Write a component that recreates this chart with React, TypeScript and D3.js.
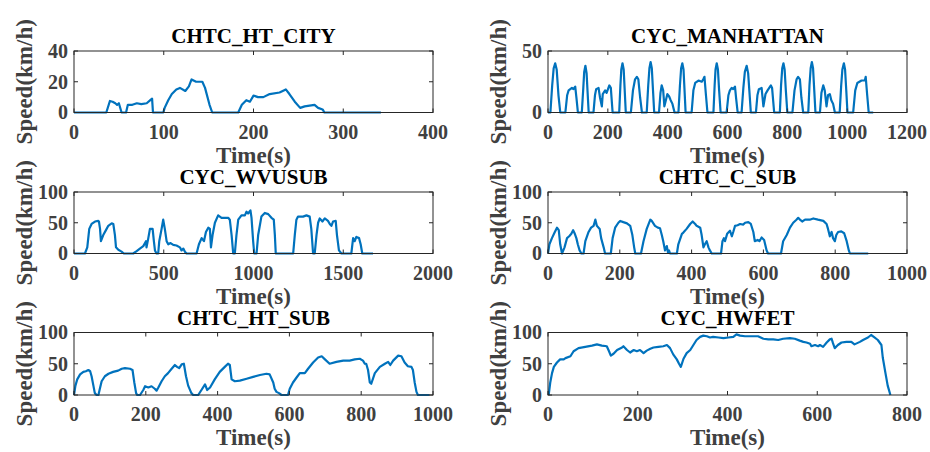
import React from "react";
import * as d3 from "d3";

// ---- Data (time s, speed km/h) ----
const chtcHtCity: [number, number][] = [
  [0, 0], [36, 0], [40, 7.5], [43, 7], [46, 6], [48, 5], [50, 6], [53, 0], [58, 0], [60, 5],
  [65, 5], [70, 6], [75, 5.5], [81, 6], [85, 8], [87, 9], [88, 0], [99.5, 0], [101, 3],
  [105, 8], [109, 12], [114, 15], [118, 16], [124, 14], [128, 17], [131, 21.5], [136, 20],
  [143, 20], [146, 16], [151, 5], [154, 0], [183, 0], [187, 5], [192, 8], [196, 7],
  [200, 11], [205, 10], [211, 10], [218, 12], [229, 13], [236, 15], [240, 12], [246, 7],
  [252, 3], [257, 4], [268, 5], [272, 3], [277, 2], [279, 0], [342, 0],
];

const cycManhattan: [number, number][] = [
  [0, 0], [8, 0], [14, 22], [19, 36], [24, 40], [29, 35], [35, 14], [41, 0],
  [58, 0], [64, 14], [69, 18], [80, 20], [85, 19], [91, 21], [95, 12], [100, 0],
  [113, 0], [118, 20], [121, 33], [125, 38], [129, 32], [132, 18], [136, 0],
  [152, 0], [157, 14], [161, 19], [169, 20], [174, 12], [180, 5], [183, 15],
  [191, 18], [196, 16], [205, 22], [210, 20], [216, 0],
  [238, 0], [242, 22], [245, 35], [249, 40], [253, 35], [256, 20], [260, 0],
  [277, 0], [284, 18], [291, 27], [297, 29], [302, 27], [308, 12], [314, 0],
  [330, 0], [335, 22], [339, 36], [343, 41], [347, 36], [351, 18], [355, 0],
  [371, 0], [376, 16], [380, 22], [385, 18], [389, 5], [394, 10], [399, 15], [405, 13], [410, 10],
  [416, 7], [423, 0],
  [436, 0], [441, 22], [445, 36], [449, 40], [453, 35], [456, 20], [460, 0],
  [480, 0], [486, 18], [492, 24], [503, 26], [514, 25], [519, 27], [523, 29], [528, 14], [533, 0],
  [553, 0], [557, 22], [560, 35], [564, 40], [568, 35], [572, 18], [577, 0],
  [597, 0], [603, 14], [608, 18], [614, 20], [619, 19], [625, 21], [629, 11], [634, 0],
  [647, 0], [653, 20], [658, 33], [664, 38], [669, 32], [673, 18], [678, 0],
  [695, 0], [700, 14], [705, 19], [714, 20], [720, 5], [727, 15], [734, 18], [745, 22], [749, 20],
  [756, 0],
  [775, 0], [779, 22], [783, 36], [787, 40], [791, 35], [795, 18], [800, 0],
  [817, 0], [824, 18], [831, 27], [836, 29], [842, 27], [847, 12], [853, 0],
  [870, 0], [874, 22], [878, 36], [882, 41], [886, 36], [890, 18], [894, 0],
  [909, 0], [914, 16], [920, 22], [925, 18], [931, 5],
  [936, 14], [942, 15], [947, 10], [953, 7], [959, 0],
  [975, 0], [980, 22], [984, 35], [989, 40], [993, 35], [997, 18], [1001, 0],
  [1020, 0], [1027, 18], [1034, 24], [1048, 26], [1059, 26], [1062, 29], [1067, 14], [1072, 0],
  [1087, 0],
];

const cycWvusub: [number, number][] = [
  [0, 0], [61, 0], [74, 10], [85, 40], [98, 48], [117, 52], [135, 53], [139, 52], [145, 40],
  [150, 20], [163, 30], [178, 38], [191, 45], [210, 49], [219, 48], [228, 30], [234, 10],
  [247, 6], [265, 3], [278, 0], [330, 0], [349, 4], [367, 8], [386, 12], [401, 20],
  [404, 10], [414, 25], [423, 40], [438, 40], [445, 20], [451, 5], [460, 0], [469, 0],
  [475, 20], [488, 40], [497, 55], [506, 40], [516, 20], [525, 15], [538, 17], [553, 14],
  [571, 13], [590, 10], [599, 5], [609, 8], [618, 3], [627, 0], [683, 0], [696, 15],
  [711, 25], [724, 20], [735, 35], [748, 42], [757, 40], [763, 10], [772, 30], [785, 50],
  [803, 62], [822, 58], [840, 58], [859, 58], [868, 55], [878, 30], [887, 0], [896, 0],
  [905, 30], [915, 55], [933, 62], [952, 62], [961, 68], [970, 65], [983, 70], [989, 58],
  [998, 20], [1004, 0], [1017, 0], [1026, 30], [1044, 60], [1063, 66], [1082, 64],
  [1100, 58], [1113, 55], [1119, 30], [1124, 0], [1221, 0], [1230, 30], [1239, 55],
  [1248, 60], [1276, 60], [1295, 62], [1313, 60], [1322, 40], [1332, 0], [1341, 0],
  [1351, 30], [1360, 50], [1369, 57], [1384, 52], [1397, 57], [1415, 53], [1425, 48],
  [1434, 45], [1443, 52], [1458, 53], [1465, 30], [1476, 5], [1490, 0], [1545, 0],
  [1555, 25], [1564, 20], [1573, 27], [1588, 25], [1597, 15], [1606, 0], [1666, 0],
];

const chtcCSub: [number, number][] = [
  [0, 0], [4, 15], [11, 25], [19, 35], [25, 42], [30, 38], [34, 15], [39, 0], [46, 10],
  [53, 25], [59, 28], [65, 32], [70, 38], [74, 33], [79, 25], [83, 15], [88, 5], [93, 0],
  [99, 0], [104, 20], [113, 35], [120, 42], [127, 45], [132, 55], [136, 45], [144, 40],
  [148, 25], [155, 10], [159, 0], [175, 0], [180, 25], [187, 42], [196, 50], [201, 53],
  [210, 51], [220, 49], [229, 45], [235, 30], [240, 10], [243, 0], [259, 0], [266, 20],
  [275, 40], [285, 55], [289, 53], [298, 45], [306, 42], [312, 41], [317, 30], [321, 20],
  [326, 5], [331, 12], [334, 2], [337, 5], [340, 0], [359, 0], [363, 15], [373, 32],
  [377, 34], [386, 40], [396, 48], [403, 52], [410, 48], [414, 45], [424, 42], [428, 30],
  [433, 10], [437, 15], [442, 20], [447, 10], [451, 5], [456, 0], [482, 0], [486, 20],
  [490, 25], [493, 20], [499, 32], [507, 37], [512, 28], [516, 35], [521, 45], [528, 46],
  [535, 48], [544, 47], [549, 50], [558, 51], [565, 48], [572, 35], [576, 20], [584, 22],
  [589, 20], [595, 26], [602, 22], [609, 5], [613, 0], [649, 0], [655, 20], [665, 30],
  [674, 42], [683, 50], [692, 55], [697, 58], [702, 55], [708, 52], [716, 55], [729, 55],
  [739, 57], [752, 55], [767, 53], [776, 48], [780, 40], [785, 28], [790, 35], [794, 25],
  [799, 20], [803, 30], [808, 35], [817, 36], [825, 33], [832, 20], [838, 5], [841, 0],
  [892, 0],
];

const chtcHtSub: [number, number][] = [
  [0, 0], [4, 15], [9, 25], [17, 33], [26, 37], [33, 38], [40, 40], [45, 38], [49, 30],
  [54, 15], [58, 3], [63, 0], [68, 0], [72, 10], [77, 22], [86, 30], [96, 34], [109, 37],
  [123, 39], [133, 42], [142, 43], [156, 42], [163, 40], [168, 20], [173, 3], [176, 0],
  [184, 0], [193, 8], [198, 14], [207, 12], [216, 14], [225, 10], [230, 7], [235, 12],
  [244, 22], [253, 30], [262, 35], [272, 42], [281, 48], [287, 45], [293, 43], [300, 49],
  [306, 50], [312, 30], [318, 15], [327, 3], [332, 0], [346, 0], [355, 8], [365, 17],
  [371, 8], [379, 12], [392, 25], [406, 37], [420, 45], [429, 50], [434, 48], [439, 25],
  [448, 22], [462, 23], [481, 26], [499, 29], [518, 32], [536, 34], [545, 33], [555, 20],
  [559, 10], [564, 5], [571, 3], [578, 0], [596, 0], [601, 10], [610, 20], [620, 28],
  [629, 35], [643, 35], [652, 42], [666, 52], [680, 60], [690, 62], [699, 57], [712, 50],
  [731, 53], [750, 55], [768, 55], [782, 57], [796, 58], [805, 55], [810, 50], [814, 50],
  [819, 40], [824, 20], [828, 18], [838, 35], [852, 45], [866, 50], [875, 53], [881, 48],
  [889, 55], [903, 63], [912, 62], [921, 52], [930, 46], [940, 45], [944, 40], [949, 20],
  [954, 5], [958, 0], [990, 0],
];

const cycHwfet: [number, number][] = [
  [1.5, 0], [5, 20], [9, 35], [13, 45], [20, 52], [27, 57], [35, 57], [39, 59], [50, 62],
  [57, 70], [68, 75], [83, 77], [98, 79], [109, 81], [120, 79], [131, 78], [136, 70],
  [140, 63], [146, 66], [154, 72], [165, 76], [168, 78], [176, 72], [183, 68], [191, 72],
  [198, 70], [205, 72], [213, 67], [220, 71], [228, 74], [235, 76], [246, 77], [257, 78],
  [265, 80], [272, 75], [279, 65], [287, 57], [292, 50], [296, 45], [302, 58], [309, 67],
  [317, 72], [324, 80], [331, 88], [339, 93], [346, 95], [354, 94], [361, 92], [368, 93],
  [380, 92], [391, 91], [402, 92], [413, 93], [420, 97], [428, 95], [439, 94], [454, 94],
  [468, 94], [480, 90], [491, 89], [502, 89], [513, 88], [524, 90], [539, 91], [550, 90],
  [561, 87], [569, 85], [576, 84], [584, 82], [587, 78], [595, 80], [602, 78], [606, 80],
  [613, 77], [621, 84], [628, 89], [632, 90], [635, 83], [639, 75], [646, 80], [654, 84],
  [665, 85], [676, 85], [683, 81], [695, 85], [702, 88], [713, 92], [720, 96], [726, 93],
  [735, 88], [743, 80], [746, 60], [752, 35], [757, 15], [763, 0],
];

const titles = ["CHTC_HT_CITY", "CYC_MANHATTAN", "CYC_WVUSUB", "CHTC_C_SUB", "CHTC_HT_SUB", "CYC_HWFET"];
const xTickSets = [
  [0, 100, 200, 300, 400],
  [0, 200, 400, 600, 800, 1000, 1200],
  [0, 500, 1000, 1500, 2000],
  [0, 200, 400, 600, 800, 1000],
  [0, 200, 400, 600, 800, 1000],
  [0, 200, 400, 600, 800],
];
const yTickSets = [
  [0, 20, 40],
  [0, 50],
  [0, 50, 100],
  [0, 50, 100],
  [0, 50, 100],
  [0, 50, 100],
];
const series = [chtcHtCity, cycManhattan, cycWvusub, chtcCSub, chtcHtSub, cycHwfet];
const xLabel = "Time(s)";
const yLabel = "Speed(km/h)";

// ---- Layout ----
const colX: [number, number][] = [[74, 433], [548, 907]];
const rowY: [number, number][] = [[51, 112.5], [192, 253.5], [332.5, 395]];
const FONT = "'Liberation Serif', 'Times New Roman', serif";
const AXIS_COLOR = "#262626";
const TEXT_GRAY = "#404040";
const LINE_COLOR = "#0072BD";

function Panel({ idx }: { idx: number }) {
  const col = idx % 2;
  const row = Math.floor(idx / 2);
  const [x0, x1] = colX[col];
  const [y0, y1] = rowY[row];
  const xt = xTickSets[idx];
  const yt = yTickSets[idx];
  const x = d3.scaleLinear().domain([xt[0], xt[xt.length - 1]]).range([x0, x1]);
  const y = d3.scaleLinear().domain([yt[0], yt[yt.length - 1]]).range([y1, y0]);
  const line = d3
    .line<[number, number]>()
    .x((d) => x(d[0]))
    .y((d) => y(d[1]));
  const tl = 4;
  const cx = (x0 + x1) / 2;
  const cy = (y0 + y1) / 2;
  return (
    <g>
      <path d={line(series[idx]) || ""} fill="none" stroke={LINE_COLOR} strokeWidth={2.2} strokeLinejoin="round" />
      <rect x={x0} y={y0} width={x1 - x0} height={y1 - y0} fill="none" stroke={AXIS_COLOR} strokeWidth={1} />
      {xt.map((t) => (
        <g key={"x" + t}>
          <line x1={x(t)} x2={x(t)} y1={y1} y2={y1 - tl} stroke={AXIS_COLOR} />
          <line x1={x(t)} x2={x(t)} y1={y0} y2={y0 + tl} stroke={AXIS_COLOR} />
          <text x={x(t)} y={y1 + 26} textAnchor="middle" fontFamily={FONT} fontWeight="bold" fontSize={20} fill={TEXT_GRAY}>
            {t}
          </text>
        </g>
      ))}
      {yt.map((t) => (
        <g key={"y" + t}>
          <line x1={x0} x2={x0 + tl} y1={y(t)} y2={y(t)} stroke={AXIS_COLOR} />
          <line x1={x1} x2={x1 - tl} y1={y(t)} y2={y(t)} stroke={AXIS_COLOR} />
          <text x={x0 - 6} y={y(t)} dy="0.34em" textAnchor="end" fontFamily={FONT} fontWeight="bold" fontSize={20} fill={TEXT_GRAY}>
            {t}
          </text>
        </g>
      ))}
      <text x={cx} y={y0 - 8} textAnchor="middle" fontFamily={FONT} fontWeight="bold" fontSize={21} fill="#000">
        {titles[idx]}
      </text>
      <text x={cx} y={y1 + 50} textAnchor="middle" fontFamily={FONT} fontWeight="bold" fontSize={23} fill={TEXT_GRAY}>
        {xLabel}
      </text>
      <text
        transform={`translate(${x0 - 42},${cy}) rotate(-90)`}
        textAnchor="middle"
        fontFamily={FONT}
        fontWeight="bold"
        fontSize={23}
        fill={TEXT_GRAY}
      >
        {yLabel}
      </text>
    </g>
  );
}

export default function App() {
  return (
    <svg
      width={930}
      height={452}
      viewBox="0 0 930 452"
      style={{ position: "absolute", left: 0, top: 0, background: "#fff" }}
    >
      <rect width={930} height={452} fill="#fff" />
      {[0, 1, 2, 3, 4, 5].map((i) => (
        <Panel key={i} idx={i} />
      ))}
    </svg>
  );
}
